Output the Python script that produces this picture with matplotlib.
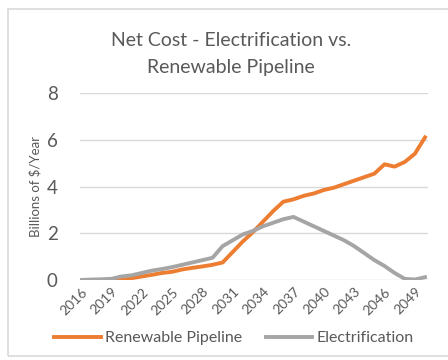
import numpy as np
import matplotlib
matplotlib.use("Agg")
import matplotlib.pyplot as plt
import matplotlib.transforms as mtransforms
from matplotlib.patches import Rectangle

plt.rcParams["font.family"] = ["Lato", "DejaVu Sans"]

# ── data: net cost, billions of $/year ──
years = list(range(2016, 2051))
renewable = [0.00, 0.00, 0.00, 0.00, 0.02, 0.08, 0.15, 0.22, 0.30, 0.35,
             0.45, 0.52, 0.58, 0.65, 0.75, 1.20, 1.65, 2.05, 2.50, 2.95,
             3.35, 3.45, 3.60, 3.70, 3.85, 3.95, 4.10, 4.25, 4.40, 4.55,
             4.95, 4.85, 5.05, 5.40, 6.10]
electrification = [0.00, 0.02, 0.03, 0.05, 0.15, 0.20, 0.30, 0.40, 0.47, 0.55,
                   0.65, 0.75, 0.85, 0.95, 1.45, 1.70, 1.95, 2.10, 2.30, 2.45,
                   2.60, 2.70, 2.50, 2.30, 2.10, 1.90, 1.70, 1.45, 1.15, 0.85,
                   0.60, 0.30, 0.05, 0.02, 0.12]
tick_years = years[::3]

text_col = "#595959"

fig = plt.figure(figsize=(4.48, 3.6), dpi=100)
# chart border
fig.patches.append(Rectangle((8 / 448, 1 - 356 / 360), 1.0, (356 - 9) / 360,
                             transform=fig.transFigure, fill=False,
                             edgecolor="#D9D9D9", lw=1.2))

ax = fig.add_axes([80 / 448, 1 - 280 / 360, 348 / 448, 187 / 360])
ax.plot(years, renewable, color="#ED7D31", lw=2.8, label="Renewable Pipeline",
        solid_joinstyle="round")
ax.plot(years, electrification, color="#A5A5A5", lw=2.8, label="Electrification",
        solid_joinstyle="round")

ax.set_xlim(2015.9, 2050.3)
ax.set_ylim(0, 8)
ax.set_yticks([0, 2, 4, 6, 8])
ax.set_xticks(tick_years)
ax.set_xticklabels([str(y) for y in tick_years], rotation=45, ha="right",
                   va="top", rotation_mode="anchor", fontsize=10, color=text_col)
off = mtransforms.ScaledTranslation(8 / 72, 0, fig.dpi_scale_trans)
for lbl in ax.get_xticklabels():
    lbl.set_transform(lbl.get_transform() + off)
ax.tick_params(axis="y", labelsize=13.5, labelcolor=text_col, length=0, pad=16)
ax.tick_params(axis="x", length=0, pad=4)
ax.grid(axis="y", color="#D9D9D9", lw=1)
ax.set_axisbelow(True)
for s in ax.spines.values():
    s.set_visible(False)

ax.set_ylabel("Billions of $/Year", fontsize=9.5, color=text_col, labelpad=4)

fig.text(0.515, 1 - 41 / 360, "Net Cost - Electrification vs.", ha="center",
         va="center", fontsize=14, color=text_col)
fig.text(0.515, 1 - 67 / 360, "Renewable Pipeline", ha="center",
         va="center", fontsize=14, color=text_col)

fig.legend(loc="center", bbox_to_anchor=(0.522, 1 - 338 / 360), ncol=2,
           frameon=False, fontsize=11.5, labelcolor=text_col, handlelength=2.9,
           handletextpad=0.25, columnspacing=1.5)

fig.savefig("out.png", dpi=100)
